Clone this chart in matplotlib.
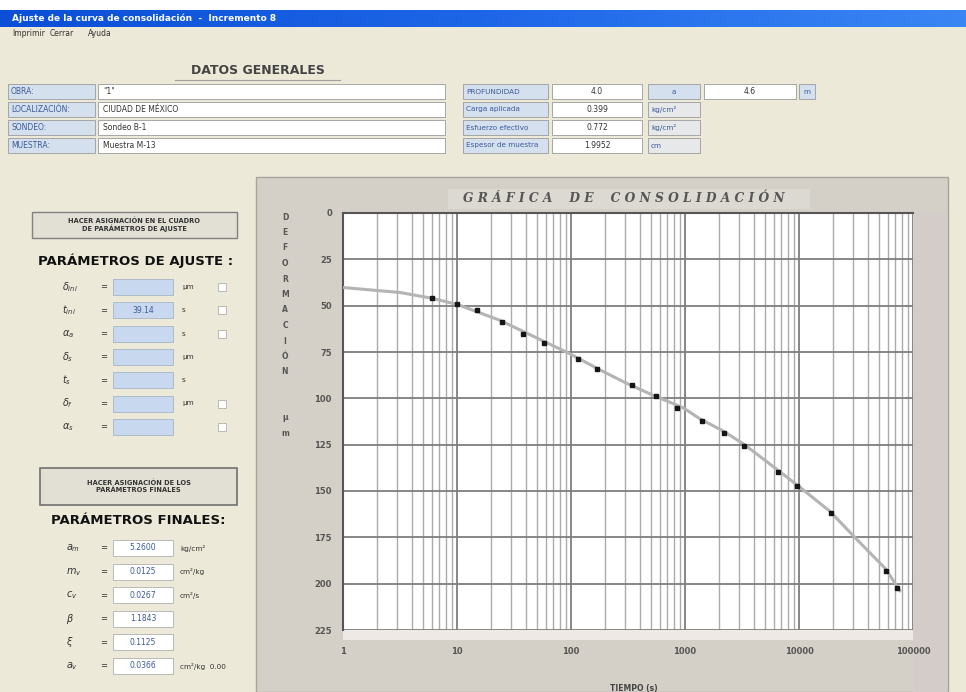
import numpy as np
import matplotlib
matplotlib.use("Agg")
import matplotlib.pyplot as plt
from matplotlib.patches import Rectangle
from matplotlib.colors import LinearSegmentedColormap

plt.rcParams['font.family'] = ['DejaVu Sans']

# ---------------- data ----------------
time_s = [6, 10, 15, 25, 38, 58, 115, 170, 340, 560, 850, 1400, 2200, 3300,
          6600, 9600, 19000, 57500, 73000]
deform = [46, 49.3, 52.5, 58.9, 65.4, 70, 79, 84, 93, 99, 105, 112, 118.5,
          125.5, 140, 147.3, 162, 193, 202.5]
fit_time = [1, 3.16, 6.03, 10, 23.8, 56.7, 98, 179, 310, 556, 957, 1349,
            2218, 3325, 6610, 10200, 18700, 32000, 57500, 77000]
fit_def = [40.2, 42.9, 46, 49.3, 57.9, 69, 76, 84.6, 92, 99, 105, 111,
           118, 125, 139, 148, 161, 176, 192, 204]
x_ticks = [1, 10, 100, 1000, 10000, 100000]
x_tick_labels = ["1", "10", "100", "1000", "10000", "100000"]
y_ticks = [0, 25, 50, 75, 100, 125, 150, 175, 200, 225]
y_tick_labels = [str(v) for v in y_ticks]

W, H = 966, 692
fig = plt.figure(figsize=(W / 100, H / 100), dpi=100)
fig.patch.set_facecolor('#ECE9D8')
bg = fig.add_axes([0, 0, 1, 1])
bg.axis('off')

def rect(x, y, w, h, fc, ec='none', lw=0.8, z=1):
    bg.add_patch(Rectangle((x, y), w, h, facecolor=fc, edgecolor=ec, lw=lw, zorder=z))

def txt(x, y, s, size=6.5, color='#222222', ha='left', va='center', weight='normal', **kw):
    bg.text(x, y, s, fontsize=size, color=color, ha=ha, va=va, fontweight=weight, zorder=5, **kw)

# window frame
rect(0, 0, W, 10, 'white')
grad = np.linspace(0, 1, 256).reshape(1, -1)
cm = LinearSegmentedColormap.from_list('xp', ['#0A4FD6', '#1E66E8', '#3A86F4'])
bg.imshow(grad, extent=[0, W, 27, 10], aspect='auto', cmap=cm, zorder=1)
txt(12, 18.5, "Ajuste de la curva de consolidación  -  Incremento 8", size=6.5,
    color='white', weight='bold')
rect(0, 27, W, 13, '#ECE9D8')
for x, s in [(12, "Imprimir"), (50, "Cerrar"), (88, "Ayuda")]:
    txt(x, 33.5, s, size=5.5, color='#333333')

# DATOS GENERALES
txt(258, 70, "DATOS GENERALES", size=9, color='#444444', weight='bold', ha='center')
bg.plot([175, 340], [80, 80], color='#A0A0A0', lw=0.8, zorder=3)

lab_fc = '#D5E0EE'
lab_col = '#3A5A9A'
rows_left = [("OBRA:", "\"1\""), ("LOCALIZACIÓN:", "CIUDAD DE MÉXICO"),
             ("SONDEO:", "Sondeo B-1"), ("MUESTRA:", "Muestra M-13")]
for i, (lab, val) in enumerate(rows_left):
    y0 = 84 + i * 18
    rect(8, y0, 87, 15, lab_fc, ec='#9A9A9A', lw=0.6)
    txt(11, y0 + 7.5, lab, size=5.5, color=lab_col)
    rect(98, y0, 347, 15, 'white', ec='#9A9A9A', lw=0.6)
    txt(103, y0 + 7.5, val, size=5.5, color='#333333')

rows_right = [("PROFUNDIDAD", "4.0", "a"), ("Carga aplicada", "0.399", "kg/cm²"),
              ("Esfuerzo efectivo", "0.772", "kg/cm²"), ("Espesor de muestra", "1.9952", "cm")]
for i, (lab, val, unit) in enumerate(rows_right):
    y0 = 84 + i * 18
    rect(463, y0, 85, 15, lab_fc, ec='#9A9A9A', lw=0.6)
    txt(466, y0 + 7.5, lab, size=5.2, color=lab_col)
    rect(552, y0, 90, 15, 'white', ec='#9A9A9A', lw=0.6)
    txt(597, y0 + 7.5, val, size=5.5, ha='center', color='#333333')
    rect(648, y0, 52, 15, lab_fc if i == 0 else '#E6E8EA', ec='#9A9A9A', lw=0.6)
    txt(674 if i == 0 else 651, y0 + 7.5, unit, size=5.2, color=lab_col,
        ha='center' if i == 0 else 'left')
rect(704, 84, 92, 15, 'white', ec='#9A9A9A', lw=0.6)
txt(750, 91.5, "4.6", size=5.5, ha='center', color='#333333')
rect(799, 84, 16, 15, lab_fc, ec='#9A9A9A', lw=0.6)
txt(807, 91.5, "m", size=5.2, ha='center', color=lab_col)

# ---- left panel: fitting parameters ----
rect(32, 212, 205, 26, '#E2DFD5', ec='#808080', lw=1.0)
txt(134.5, 225, "HACER ASIGNACIÓN EN EL CUADRO\nDE PARÁMETROS DE AJUSTE", size=4.8,
    ha='center', weight='bold', color='#333333', linespacing=1.1)
txt(136, 261, "PARÁMETROS DE AJUSTE :", size=9.5, weight='heavy', ha='center', color='#111111')
adj_syms = [r"$\delta_{ini}$", r"$t_{ini}$", r"$\alpha_{a}$", r"$\delta_{s}$",
            r"$t_{s}$", r"$\delta_{f}$", r"$\alpha_{s}$"]
adj_vals = ["", "39.14", "", "", "", "", ""]
adj_units = ["µm", "s", "s", "µm", "s", "µm", ""]
adj_check = [True, True, True, False, False, True, True]
for i in range(7):
    yc = 287 + i * 23.3
    txt(62, yc, adj_syms[i], size=7, color='#333333')
    txt(100, yc, "=", size=6, color='#333333')
    rect(113, yc - 8, 60, 16, '#C8D8EE', ec='#A8B4C4', lw=0.6)
    txt(143, yc, adj_vals[i], size=5.5, ha='center', color='#3A5A9A')
    txt(182, yc, adj_units[i], size=5.2, color='#333333')
    if adj_check[i]:
        rect(218, yc - 4, 8, 8, 'white', ec='#B0B0B0', lw=0.6)

# ---- left panel: final parameters ----
rect(40, 468, 197, 37, '#E2DFD5', ec='#707070', lw=1.2)
txt(138.5, 486.5, "HACER ASIGNACIÓN DE LOS\nPARÁMETROS FINALES", size=4.8,
    ha='center', weight='bold', color='#333333', linespacing=1.1)
txt(138, 521, "PARÁMETROS FINALES:", size=9.5, weight='heavy', ha='center', color='#111111')
fin_syms = [r"$a_{m}$", r"$m_{v}$", r"$c_{v}$", r"$\beta$", r"$\xi$", r"$a_{v}$"]
fin_vals = ["5.2600", "0.0125", "0.0267", "1.1843", "0.1125", "0.0366"]
fin_units = ["kg/cm²", "cm²/kg", "cm²/s", "", "", "cm²/kg  0.00"]
for i in range(6):
    yc = 548 + i * 23.6
    txt(66, yc, fin_syms[i], size=7, color='#333333')
    txt(100, yc, "=", size=6, color='#333333')
    rect(113, yc - 8, 60, 16, 'white', ec='#B0B0B0', lw=0.6)
    txt(143, yc, fin_vals[i], size=5.5, ha='center', color='#3A5A9A')
    txt(180, yc, fin_units[i], size=5.2, color='#333333')

# ---- chart panel ----
rect(256, 177, 692, 515, '#D4D0C8', ec='#A8A49C', lw=1.0)
rect(913, 213, 33, 479, '#D3CCC8')
rect(448, 189, 362, 20, '#DCD8D2')
txt(624, 199, "G R Á F I C A    D E    C O N S O L I D A C I Ó N", size=8.8,
    ha='center', weight='bold', color='#555555', style='italic', family='DejaVu Serif')
for i, ch in enumerate("DEFORMACIÓN"):
    txt(285, 217 + i * 15.5, ch, size=5.5, ha='center', weight='bold', color='#555555')
for i, ch in enumerate("µm"):
    txt(285, 418 + i * 15, ch, size=5.5, ha='center', weight='bold', color='#555555')
txt(634, 688, "TIEMPO (s)", size=5.5, ha='center', weight='bold', color='#444444')
rect(343, 630, 570, 10, '#EFE9E6')

bg.set_xlim(0, W)
bg.set_ylim(H, 0)

# ---- the plot ----
ax = fig.add_axes([343 / W, 1 - 630 / H, 570 / W, 417 / H])
ax.set_facecolor('white')
ax.set_xscale('log')
ax.set_xlim(x_ticks[0], x_ticks[-1])
ax.set_ylim(y_ticks[-1], y_ticks[0])
ax.set_xticks(x_ticks)
ax.set_xticklabels(x_tick_labels)
ax.set_yticks(y_ticks)
ax.set_yticklabels(y_tick_labels)
ax.xaxis.set_minor_locator(matplotlib.ticker.LogLocator(base=10, subs=np.arange(2, 10)))
ax.xaxis.set_minor_formatter(matplotlib.ticker.NullFormatter())
ax.tick_params(axis='both', which='both', length=0)
ax.tick_params(axis='x', pad=12, labelsize=6, labelcolor='#555555')
ax.tick_params(axis='y', pad=8, labelsize=6, labelcolor='#555555')
for lab in ax.get_xticklabels() + ax.get_yticklabels():
    lab.set_fontweight('bold')
ax.grid(True, which='major', axis='both', color='#7E7E7E', lw=1.3)
ax.grid(True, which='minor', axis='x', color='#ABABAB', lw=1.0)
ax.set_axisbelow(True)
for s in ['bottom', 'right']:
    ax.spines[s].set_visible(False)
for s in ['left', 'top']:
    ax.spines[s].set_color('#555555')
    ax.spines[s].set_linewidth(1.5)

ax.plot(fit_time, fit_def, color='#B4B4B4', lw=2.2, zorder=3, solid_capstyle='round')
ax.plot(time_s, deform, 's', ms=3, color='#151515', zorder=4)

fig.savefig('out.png', dpi=100, facecolor=fig.get_facecolor())
